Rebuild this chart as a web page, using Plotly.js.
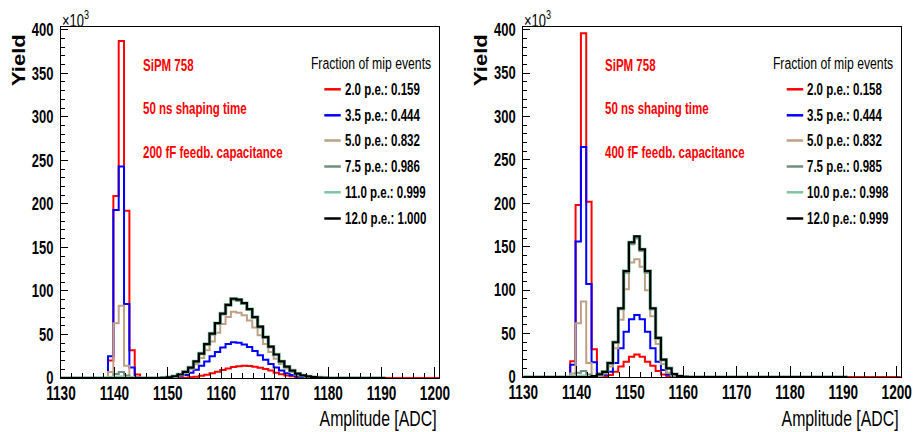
<!DOCTYPE html>
<html>
<head>
<meta charset="utf-8">
<script src="https://cdn.plot.ly/plotly-3.0.1.min.js"></script>
<style>html,body{margin:0;padding:0;background:#fff;}#chart{width:914px;height:432px;}</style>
</head>
<body>
<div id="chart"></div>
<script>
// ---------------- DATA (yield in units of 10^3, 1-ADC bins, value index 0 = bin at "start") ----------------
const xTicks = [1130, 1140, 1150, 1160, 1170, 1180, 1190, 1200];
const yTicks = [0, 50, 100, 150, 200, 250, 300, 350, 400];

// Left panel: 200 fF feedback capacitance
const leftStart = 1139;
const L_red   = [20, 209, 387, 192, 32, 4, 0, 0, 0, 0, 0, 0, 0, 0.2, 0.4, 0.8, 1.5, 2.5, 3.8, 5.5, 7.3, 9.2, 11, 12.5, 13.6, 14, 13.8, 13, 11.8, 10.2, 8.5, 6, 4.3, 3, 2, 1.2, 0.6, 0.3, 0.1];
const L_blue  = [25, 193, 243, 85, 12, 1, 0, 0, 0, 0, 0.1, 0.4, 1, 2, 3.5, 6, 9.5, 14, 19, 25, 30, 35, 39, 41, 40.5, 38.5, 35.5, 31, 26, 21, 16, 12, 8.5, 5.5, 3.5, 2, 1.2, 0.6, 0.3, 0.1];
const L_tan   = [7, 63, 83, 14, 0.5, 0, 0, 0, 0, 0, 0.2, 0.6, 1.6, 3.3, 5.8, 10, 16, 23, 32, 42, 52, 62, 70, 76, 75, 72, 66, 58, 49, 39, 30, 22, 16, 11, 7, 4.2, 2.5, 1.5, 0.8, 0.4, 0.2];
const L_gray  = [1, 4.5, 7, 3, 0, 0, 0, 0, 0, 0, 0.3, 0.8, 2, 4, 7, 12, 19, 27.5, 38.5, 50, 62, 73, 83, 89.5, 88.5, 85, 78, 69, 58, 46, 35.5, 26.5, 19, 13, 8.5, 5, 3, 1.8, 1, 0.5, 0.2];
const L_green = [0, 0.5, 1, 0, 0, 0, 0, 0, 0, 0, 0.3, 0.8, 2, 4, 7, 12, 19, 28, 39, 51, 63, 74, 84, 91, 90, 86, 79, 70, 59, 47, 36, 27, 19, 13, 8.5, 5, 3, 1.8, 1, 0.5, 0.2];
const L_black = [0, 0, 0, 0, 0, 0, 0, 0, 0, 0, 0.3, 0.8, 2, 4, 7, 12, 19, 28, 39, 51, 63, 74, 84, 91, 90, 86, 79, 70, 59, 47, 36, 27, 19, 13, 8.5, 5, 3, 1.8, 1, 0.5, 0.2];

// Right panel: 400 fF feedback capacitance
const rightStart = 1139;
const R_red   = [18, 198, 396, 202, 32, 4, 0.8, 2.3, 6, 12, 17.7, 23.4, 26, 23.4, 17.7, 13, 7, 3, 1.2, 0.4];
const R_blue  = [14, 156, 265, 107, 17, 2, 2.5, 6, 16, 33, 52, 66.5, 71.5, 66.5, 52, 33, 17.7, 8, 3, 1, 0.3];
const R_tan   = [4, 62, 87, 16, 0.5, 1.5, 4, 12, 33, 66, 101, 132, 135.5, 127, 100, 70, 38, 15, 5, 1.5, 0.5];
const R_gray  = [1, 5, 7, 3, 0, 3, 6, 15.5, 39.5, 78, 120, 153, 159.5, 145, 120, 78, 44, 19.5, 9.8, 3.2, 1, 0.3];
const R_green = [0, 0.5, 1, 0, 0, 3, 6, 16, 40, 79, 122, 155, 161.5, 147, 122, 79, 45, 20, 10, 3.3, 1, 0.3];
const R_black = [0, 0, 0, 0, 1, 3, 6, 16, 40, 79, 122, 155, 162, 147, 122, 79, 45, 20, 10, 3.3, 1, 0.3];

const leftNames  = ["2.0 p.e.", "3.5 p.e.", "5.0 p.e.", "7.5 p.e.", "11.0 p.e.", "12.0 p.e."];
const leftFractions  = ["0.159", "0.444", "0.832", "0.986", "0.999", "1.000"];
const rightNames = ["2.0 p.e.", "3.5 p.e.", "5.0 p.e.", "7.5 p.e.", "10.0 p.e.", "12.0 p.e."];
const rightFractions = ["0.158", "0.444", "0.832", "0.985", "0.998", "0.999"];
const leftNotes  = ["SiPM 758", "50 ns shaping time", "200 fF feedb. capacitance"];
const rightNotes = ["SiPM 758", "50 ns shaping time", "400 fF feedb. capacitance"];

// ---------------- STYLE ----------------
const COLORS = ["#ff0000", "#0000ff", "#bfa085", "#6f8f7c", "#80c4a4", "#000000"];
const WIDTHS = [2, 2, 2, 2, 3.5, 2.2];
const FONT = "Liberation Sans, Arial, Helvetica, sans-serif";
const SQUEEZE = 0.72;   // horizontal condensing of the text, as in the reference
const W = 914, H = 432;
const FIRST_BIN = 1130, LAST_BIN = 1190, EDGE_OFF = -0.2, X_END = 1200.75;

function hist(start, vals, extendTo) {
  const x = [], y = [];
  for (let b = FIRST_BIN; b <= LAST_BIN; b++) {
    const i = b - start;
    x.push(b + EDGE_OFF);
    y.push(i >= 0 && i < vals.length ? vals[i] : 0);
  }
  x.push(LAST_BIN + 1 + EDGE_OFF); y.push(0);
  if (extendTo) { x.push(extendTo); y.push(0); }
  return {x, y};
}

const px = v => v / W;
const py = v => 1 - v / H;

const traces = [];
function addPanel(start, list, xa, ya) {
  list.forEach((vals, k) => {
    const h = hist(start, vals, k === 0 ? X_END + 1 : null);
    traces.push({type: 'scatter', mode: 'lines', x: h.x, y: h.y, xaxis: xa, yaxis: ya,
      line: {shape: 'hv', color: COLORS[k], width: WIDTHS[k]}, showlegend: false, hoverinfo: 'skip'});
  });
}
addPanel(leftStart, [L_red, L_blue, L_tan, L_gray, L_green, L_black], 'x', 'y');
addPanel(rightStart, [R_red, R_blue, R_tan, R_gray, R_green, R_black], 'x2', 'y2');

function xAxis(dom, anchor) {
  return {domain: dom, anchor: anchor, range: [1130, X_END], showgrid: false, zeroline: false,
    showline: true, mirror: true, linecolor: '#000', linewidth: 1,
    tickmode: 'array', tickvals: xTicks, ticktext: xTicks.map(String), ticklabeloverflow: 'allow',
    ticks: 'inside', ticklen: 11, tickwidth: 1, tickcolor: '#000', ticklabelstandoff: -3,
    minor: {tickmode: 'linear', tick0: 1130, dtick: 2, ticks: 'inside', ticklen: 5.5, tickcolor: '#000', tickwidth: 1},
    tickfont: {family: FONT, size: 20, color: '#000', weight: 'bold'}, fixedrange: true};
}
function yAxis(dom, anchor) {
  return {domain: dom, anchor: anchor, range: [0, 403.5], showgrid: false, zeroline: false,
    showline: true, mirror: true, linecolor: '#000', linewidth: 1,
    tickmode: 'array', tickvals: yTicks, ticktext: yTicks.map(String), ticklabeloverflow: 'allow',
    ticks: 'inside', ticklen: 7, tickwidth: 1, tickcolor: '#000',
    minor: {tickmode: 'linear', tick0: 0, dtick: 10, ticks: 'inside', ticklen: 3.5, tickcolor: '#000', tickwidth: 1},
    tickfont: {family: FONT, size: 18, color: '#000', weight: 'bold'}, ticklabelstandoff: 3, fixedrange: true};
}

const annotations = [], shapes = [];
const rowsY = [89.3, 115.3, 140.5, 166.5, 192.3, 218.5];
function ann(x, y, text, xanchor, font, extra) {
  annotations.push(Object.assign({xref: 'paper', yref: 'paper', x: px(x), y: py(y), xanchor: xanchor,
    yanchor: 'middle', text: text, showarrow: false, font: font}, extra || {}));
}
function panelDecor(off, frameR, notes, names, fracs, legLineX0, legHeaderR) {
  ann(frameR, 418, 'Amplitude [ADC]', 'right', {family: FONT, size: 22, color: '#000'});
  ann(off + 18, 32, 'Yield', 'center', {family: FONT, size: 22, color: '#000', weight: 'bold'},
    {yanchor: 'top', textangle: -90});
  ann(off + 60, 19, '\u00d710<sup>3</sup>', 'left', {family: FONT, size: 18, color: '#000'});
  [65, 108, 152].forEach((yy, i) => ann(off + 141, yy, notes[i], 'left',
    {family: FONT, size: 16, color: '#ff0000', weight: 'bold'}));
  ann(legHeaderR, 63.3, 'Fraction of mip events', 'right', {family: FONT, size: 17, color: '#000'});
  rowsY.forEach((yy, i) => {
    shapes.push({type: 'line', xref: 'paper', yref: 'paper', x0: px(legLineX0), x1: px(legLineX0 + 16.5),
      y0: py(yy), y1: py(yy), line: {color: COLORS[i], width: 2.5}});
    ann(legLineX0 + 18.5, yy, names[i] + ': ' + fracs[i], 'left',
      {family: FONT, size: 16, color: '#000', weight: 'bold'});
  });
}
panelDecor(0, 439, leftNotes, leftNames, leftFractions, 324.3, 432.7);
panelDecor(462, 900.7, rightNotes, rightNames, rightFractions, 786.7, 895);

const layout = {
  width: W, height: H, margin: {l: 0, r: 0, t: 0, b: 0}, paper_bgcolor: '#fff', plot_bgcolor: '#fff',
  showlegend: false,
  xaxis: xAxis([px(61), px(439)], 'y'),
  yaxis: yAxis([py(378), py(26.7)], 'x'),
  xaxis2: xAxis([px(523.3), px(900.7)], 'y2'),
  yaxis2: yAxis([py(377), py(26.7)], 'x2'),
  annotations: annotations, shapes: shapes
};

function squeeze(el, mode, s) {
  const b = el.getBBox();
  const t = el.getAttribute('transform') || '';
  if (mode === 'vertical') {           // rotated text: condense its thickness (screen x)
    const q = b.y + b.height / 2;
    el.setAttribute('transform', t + ' translate(0,' + q + ') scale(1,' + s + ') translate(0,' + (-q) + ')');
    return;
  }
  const p = mode === 'left' ? b.x : mode === 'right' ? b.x + b.width : b.x + b.width / 2;
  el.setAttribute('transform', t + ' translate(' + p + ',0) scale(' + s + ',1) translate(' + (-p) + ',0)');
}
Plotly.newPlot('chart', traces, layout, {staticPlot: true, displayModeBar: false}).then(gd => {
  gd.querySelectorAll('.xtick text, .x2tick text').forEach(el => squeeze(el, 'center', 0.68));
  gd.querySelectorAll('.ytick text, .y2tick text').forEach(el => squeeze(el, 'right', SQUEEZE));
  gd.querySelectorAll('g.annotation').forEach(g => {
    const idx = +g.getAttribute('data-index');
    const a = annotations[idx];
    if (!a) return;
    const el = g.querySelector('text.annotation-text');
    if (!el) return;
    if (a.textangle) squeeze(el, 'vertical', 0.85);
    else squeeze(el, a.xanchor, SQUEEZE);
  });
});
</script>
</body>
</html>
